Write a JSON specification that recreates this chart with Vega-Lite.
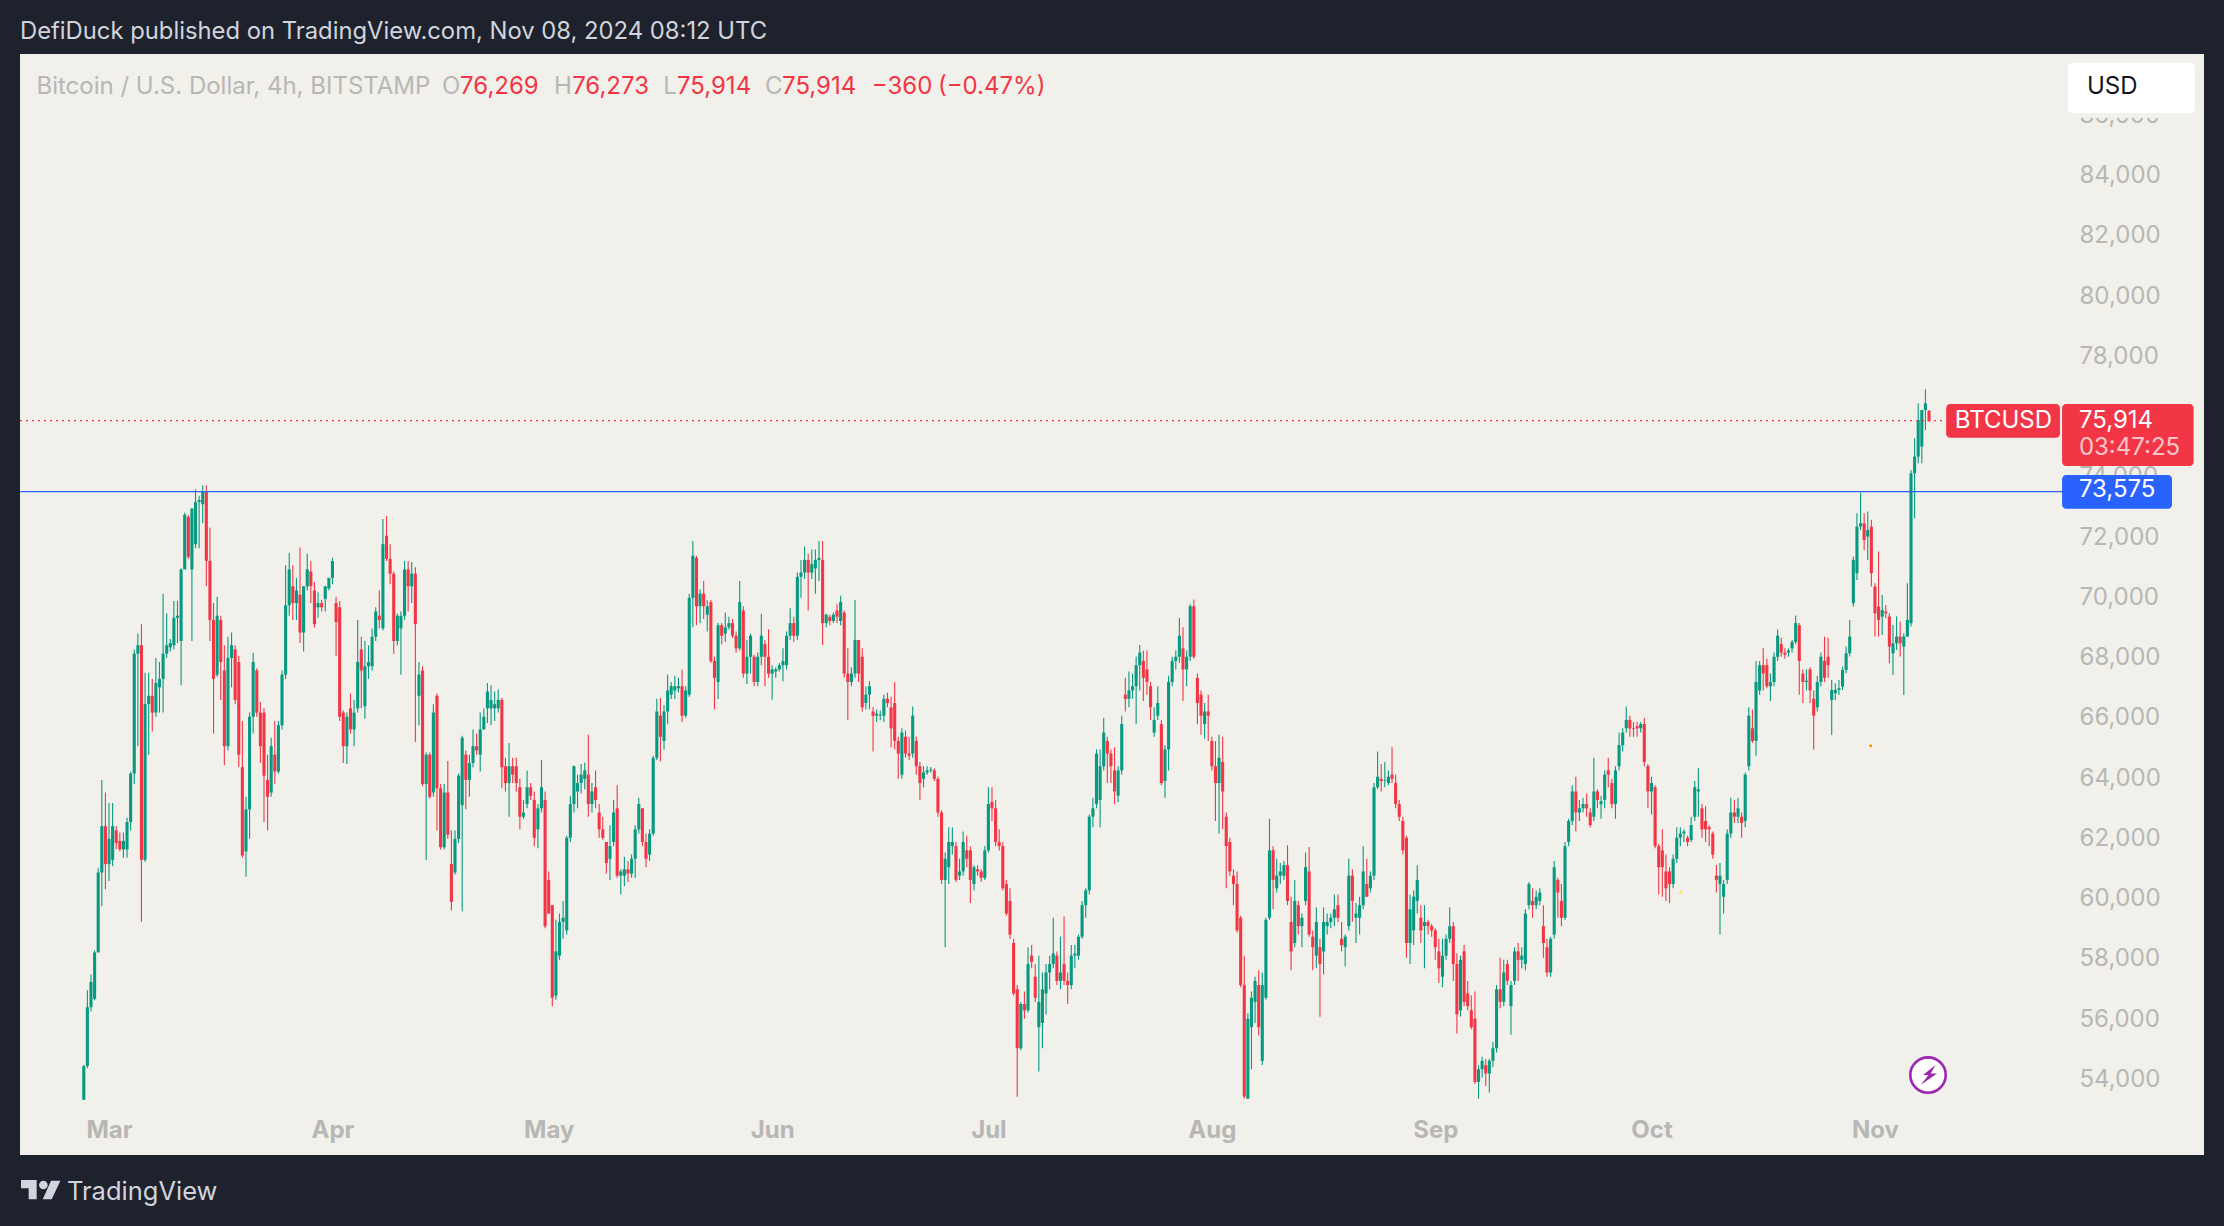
{"$schema":"https://vega.github.io/schema/vega-lite/v6.json","background":"#1e222d","autosize":{"type":"none"},"padding":{"left":20,"top":54,"right":20,"bottom":71},"width":2184,"height":1101,"view":{"fill":"#f1f0ea","stroke":null},
"title":{"text":"DefiDuck published on TradingView.com, Nov 08, 2024 08:12 UTC","anchor":"start","frame":"group","offset":10,"color":"#d1d4dc","fontSize":23.8,"fontWeight":"normal","font":"Inter"},
"datasets":{"candles":[
{"t":"2024-02-26T12:00","o":53392,"h":54550,"l":53392,"c":54510},
{"t":"2024-02-27T00:00","o":54510,"h":57025,"l":54440,"c":56466},
{"t":"2024-02-27T12:00","o":56466,"h":57555,"l":56326,"c":57305},
{"t":"2024-02-28T00:00","o":56745,"h":58352,"l":56700,"c":58283},
{"t":"2024-02-28T12:00","o":58283,"h":61076,"l":58841,"c":60937},
{"t":"2024-02-29T00:00","o":60937,"h":64010,"l":59818,"c":62474},
{"t":"2024-02-29T12:00","o":62474,"h":63591,"l":60377,"c":61216},
{"t":"2024-03-01T00:00","o":61216,"h":63242,"l":60657,"c":62054},
{"t":"2024-03-01T12:00","o":61356,"h":63242,"l":61146,"c":62474},
{"t":"2024-03-02T00:00","o":62334,"h":62474,"l":61705,"c":61914},
{"t":"2024-03-02T12:00","o":61984,"h":62264,"l":61635,"c":61705},
{"t":"2024-03-03T00:00","o":61705,"h":62264,"l":61425,"c":61984},
{"t":"2024-03-03T12:00","o":61705,"h":62753,"l":61425,"c":62613},
{"t":"2024-03-04T00:00","o":62613,"h":64290,"l":62334,"c":64220},
{"t":"2024-03-04T12:00","o":64220,"h":68340,"l":63870,"c":68200},
{"t":"2024-03-05T00:00","o":68200,"h":68870,"l":65130,"c":68480},
{"t":"2024-03-05T12:00","o":68480,"h":69180,"l":59300,"c":61356},
{"t":"2024-03-06T00:00","o":61356,"h":67570,"l":61285,"c":66530},
{"t":"2024-03-06T12:00","o":66530,"h":67570,"l":64848,"c":66800},
{"t":"2024-03-07T00:00","o":66800,"h":67360,"l":65617,"c":66245},
{"t":"2024-03-07T12:00","o":66245,"h":68060,"l":66105,"c":67223},
{"t":"2024-03-08T00:00","o":67084,"h":67920,"l":66245,"c":67363},
{"t":"2024-03-08T12:00","o":67363,"h":70185,"l":66245,"c":68200},
{"t":"2024-03-09T00:00","o":68200,"h":69530,"l":68060,"c":68480},
{"t":"2024-03-09T12:00","o":68410,"h":68690,"l":68270,"c":68550},
{"t":"2024-03-10T00:00","o":68480,"h":69950,"l":68340,"c":69390},
{"t":"2024-03-10T12:00","o":69390,"h":69950,"l":68550,"c":69460},
{"t":"2024-03-11T00:00","o":68620,"h":71023,"l":67150,"c":70995},
{"t":"2024-03-11T12:00","o":70995,"h":72880,"l":71340,"c":72810},
{"t":"2024-03-12T00:00","o":72740,"h":72810,"l":71340,"c":71413},
{"t":"2024-03-12T12:00","o":70995,"h":73020,"l":68620,"c":73020},
{"t":"2024-03-13T00:00","o":71833,"h":73650,"l":71693,"c":73230},
{"t":"2024-03-13T12:00","o":73230,"h":73440,"l":71700,"c":73300},
{"t":"2024-03-14T00:00","o":73160,"h":73790,"l":72530,"c":73580},
{"t":"2024-03-14T12:00","o":73580,"h":73790,"l":70436,"c":71280},
{"t":"2024-03-15T00:00","o":71280,"h":72390,"l":68620,"c":69320},
{"t":"2024-03-15T12:00","o":69320,"h":69880,"l":65546,"c":67363},
{"t":"2024-03-16T00:00","o":67500,"h":70087,"l":67433,"c":69460},
{"t":"2024-03-16T12:00","o":69320,"h":69460,"l":66665,"c":67920},
{"t":"2024-03-17T00:00","o":67642,"h":68480,"l":64500,"c":65128},
{"t":"2024-03-17T12:00","o":65128,"h":68760,"l":64990,"c":68060},
{"t":"2024-03-18T00:00","o":68060,"h":68900,"l":67084,"c":68480},
{"t":"2024-03-18T12:00","o":68340,"h":68480,"l":66525,"c":66665},
{"t":"2024-03-19T00:00","o":67920,"h":68130,"l":64430,"c":64848},
{"t":"2024-03-19T12:00","o":64430,"h":65966,"l":61425,"c":61500},
{"t":"2024-03-20T00:00","o":61635,"h":63451,"l":60796,"c":63033},
{"t":"2024-03-20T12:00","o":63033,"h":66245,"l":62054,"c":66105},
{"t":"2024-03-21T00:00","o":66105,"h":68230,"l":65546,"c":67920},
{"t":"2024-03-21T12:00","o":67642,"h":67712,"l":66105,"c":66245},
{"t":"2024-03-22T00:00","o":66245,"h":66595,"l":64569,"c":65128},
{"t":"2024-03-22T12:00","o":66245,"h":66385,"l":62613,"c":64150},
{"t":"2024-03-23T00:00","o":64010,"h":64848,"l":62334,"c":63451},
{"t":"2024-03-23T12:00","o":63591,"h":65407,"l":63451,"c":65128},
{"t":"2024-03-24T00:00","o":64848,"h":65966,"l":63870,"c":64290},
{"t":"2024-03-24T12:00","o":64290,"h":65966,"l":64220,"c":65826},
{"t":"2024-03-25T00:00","o":65826,"h":67642,"l":65686,"c":67503},
{"t":"2024-03-25T12:00","o":67503,"h":71135,"l":67363,"c":69807},
{"t":"2024-03-26T00:00","o":69807,"h":71553,"l":69460,"c":70995},
{"t":"2024-03-26T12:00","o":70436,"h":71135,"l":69320,"c":69878},
{"t":"2024-03-27T00:00","o":69878,"h":70715,"l":69320,"c":70296},
{"t":"2024-03-27T12:00","o":70157,"h":71721,"l":68550,"c":68900},
{"t":"2024-03-28T00:00","o":68900,"h":70436,"l":68270,"c":70436},
{"t":"2024-03-28T12:00","o":70436,"h":71526,"l":70296,"c":70995},
{"t":"2024-03-29T00:00","o":70925,"h":71274,"l":69878,"c":70436},
{"t":"2024-03-29T12:00","o":70296,"h":70575,"l":69068,"c":69180},
{"t":"2024-03-30T00:00","o":69738,"h":70226,"l":69389,"c":69878},
{"t":"2024-03-30T12:00","o":69878,"h":69990,"l":69600,"c":69738},
{"t":"2024-03-31T00:00","o":70017,"h":70436,"l":69598,"c":70436},
{"t":"2024-03-31T12:00","o":70366,"h":70715,"l":70296,"c":70715},
{"t":"2024-04-01T00:00","o":70715,"h":71386,"l":70506,"c":71274},
{"t":"2024-04-01T12:00","o":69878,"h":70087,"l":68130,"c":69250},
{"t":"2024-04-02T00:00","o":69738,"h":69947,"l":65965,"c":66105},
{"t":"2024-04-02T12:00","o":66245,"h":66315,"l":64569,"c":65128},
{"t":"2024-04-03T00:00","o":65128,"h":66245,"l":64540,"c":66105},
{"t":"2024-04-03T12:00","o":66385,"h":66874,"l":65546,"c":65686},
{"t":"2024-04-04T00:00","o":65686,"h":66665,"l":65128,"c":66245},
{"t":"2024-04-04T12:00","o":66385,"h":69318,"l":66245,"c":67921},
{"t":"2024-04-05T00:00","o":68340,"h":68760,"l":66385,"c":67642},
{"t":"2024-04-05T12:00","o":66455,"h":68620,"l":66036,"c":67782},
{"t":"2024-04-06T00:00","o":67782,"h":68480,"l":67363,"c":67922},
{"t":"2024-04-06T12:00","o":67782,"h":69039,"l":67642,"c":68760},
{"t":"2024-04-07T00:00","o":68760,"h":69738,"l":68620,"c":69598},
{"t":"2024-04-07T12:00","o":69459,"h":70296,"l":69039,"c":69319},
{"t":"2024-04-08T00:00","o":69039,"h":72671,"l":68969,"c":71833},
{"t":"2024-04-08T12:00","o":72112,"h":72769,"l":71274,"c":71344},
{"t":"2024-04-09T00:00","o":71344,"h":71833,"l":70506,"c":70855},
{"t":"2024-04-09T12:00","o":70855,"h":70925,"l":68200,"c":68620},
{"t":"2024-04-10T00:00","o":68620,"h":69529,"l":68480,"c":69459},
{"t":"2024-04-10T12:00","o":69039,"h":69598,"l":67503,"c":69459},
{"t":"2024-04-11T00:00","o":69459,"h":71274,"l":69319,"c":70995},
{"t":"2024-04-11T12:00","o":70995,"h":71274,"l":69598,"c":70436},
{"t":"2024-04-12T00:00","o":70436,"h":71246,"l":69878,"c":70855},
{"t":"2024-04-12T12:00","o":70855,"h":71065,"l":65267,"c":69179},
{"t":"2024-04-13T00:00","o":66803,"h":67921,"l":65826,"c":67503},
{"t":"2024-04-13T12:00","o":67642,"h":67782,"l":63800,"c":63870},
{"t":"2024-04-14T00:00","o":63870,"h":64917,"l":61355,"c":64848},
{"t":"2024-04-14T12:00","o":64848,"h":64917,"l":63381,"c":63451},
{"t":"2024-04-15T00:00","o":63591,"h":66525,"l":63451,"c":66245},
{"t":"2024-04-15T12:00","o":66803,"h":66874,"l":62333,"c":63731},
{"t":"2024-04-16T00:00","o":63731,"h":63870,"l":61704,"c":61774},
{"t":"2024-04-16T12:00","o":61774,"h":63870,"l":61704,"c":63591},
{"t":"2024-04-17T00:00","o":63591,"h":64639,"l":62054,"c":62193},
{"t":"2024-04-17T12:00","o":61216,"h":62333,"l":59678,"c":59957},
{"t":"2024-04-18T00:00","o":60937,"h":62333,"l":60867,"c":62054},
{"t":"2024-04-18T12:00","o":62054,"h":64220,"l":61914,"c":64150},
{"t":"2024-04-19T00:00","o":63172,"h":65477,"l":59651,"c":65407},
{"t":"2024-04-19T12:00","o":64848,"h":64987,"l":63032,"c":64010},
{"t":"2024-04-20T00:00","o":64010,"h":64848,"l":63451,"c":64569},
{"t":"2024-04-20T12:00","o":64569,"h":65686,"l":64429,"c":65128},
{"t":"2024-04-21T00:00","o":65128,"h":65546,"l":64848,"c":64987},
{"t":"2024-04-21T12:00","o":64848,"h":66245,"l":64290,"c":65686},
{"t":"2024-04-22T00:00","o":65686,"h":66385,"l":65686,"c":66105},
{"t":"2024-04-22T12:00","o":66385,"h":67223,"l":65896,"c":66944},
{"t":"2024-04-23T00:00","o":66385,"h":67153,"l":65826,"c":66665},
{"t":"2024-04-23T12:00","o":66385,"h":66944,"l":65966,"c":66525},
{"t":"2024-04-24T00:00","o":66385,"h":67014,"l":66245,"c":66665},
{"t":"2024-04-24T12:00","o":66665,"h":66733,"l":63730,"c":64429},
{"t":"2024-04-25T00:00","o":64464,"h":64744,"l":63626,"c":63906},
{"t":"2024-04-25T12:00","o":63906,"h":65233,"l":62788,"c":64464},
{"t":"2024-04-26T00:00","o":64464,"h":64744,"l":63906,"c":64185},
{"t":"2024-04-26T12:00","o":64464,"h":64744,"l":63626,"c":63906},
{"t":"2024-04-27T00:00","o":63766,"h":64045,"l":62369,"c":62788},
{"t":"2024-04-27T12:00","o":62788,"h":63347,"l":62718,"c":62928},
{"t":"2024-04-28T00:00","o":63207,"h":64325,"l":63067,"c":63766},
{"t":"2024-04-28T12:00","o":63766,"h":63906,"l":63347,"c":63486},
{"t":"2024-04-29T00:00","o":63347,"h":63626,"l":61810,"c":62090},
{"t":"2024-04-29T12:00","o":62369,"h":63207,"l":61741,"c":63067},
{"t":"2024-04-30T00:00","o":63067,"h":64674,"l":62928,"c":63766},
{"t":"2024-04-30T12:00","o":63347,"h":63626,"l":59086,"c":59156},
{"t":"2024-05-01T00:00","o":60692,"h":60972,"l":59575,"c":59575},
{"t":"2024-05-01T12:00","o":59854,"h":59854,"l":56500,"c":56781},
{"t":"2024-05-02T00:00","o":56851,"h":59365,"l":56711,"c":58318},
{"t":"2024-05-02T12:00","o":58178,"h":59575,"l":58038,"c":59296},
{"t":"2024-05-03T00:00","o":59296,"h":59994,"l":58737,"c":59435},
{"t":"2024-05-03T12:00","o":59016,"h":62159,"l":58877,"c":62090},
{"t":"2024-05-04T00:00","o":62090,"h":63486,"l":61950,"c":63207},
{"t":"2024-05-04T12:00","o":63207,"h":64492,"l":62928,"c":64464},
{"t":"2024-05-05T00:00","o":63626,"h":64185,"l":63067,"c":63906},
{"t":"2024-05-05T12:00","o":63906,"h":64534,"l":63556,"c":64185},
{"t":"2024-05-06T00:00","o":64045,"h":64576,"l":63696,"c":64325},
{"t":"2024-05-06T12:00","o":64185,"h":65512,"l":62788,"c":63207},
{"t":"2024-05-07T00:00","o":63207,"h":63906,"l":62928,"c":63626},
{"t":"2024-05-07T12:00","o":63766,"h":64325,"l":63067,"c":63347},
{"t":"2024-05-08T00:00","o":62928,"h":63207,"l":62090,"c":62369},
{"t":"2024-05-08T12:00","o":62369,"h":62788,"l":62020,"c":62090},
{"t":"2024-05-09T00:00","o":61950,"h":61950,"l":60902,"c":61251},
{"t":"2024-05-09T12:00","o":61391,"h":62509,"l":60692,"c":61810},
{"t":"2024-05-10T00:00","o":61950,"h":63347,"l":61810,"c":62928},
{"t":"2024-05-10T12:00","o":63067,"h":63836,"l":60762,"c":60832},
{"t":"2024-05-11T00:00","o":60832,"h":61042,"l":60204,"c":60972},
{"t":"2024-05-11T12:00","o":60832,"h":61461,"l":60483,"c":61042},
{"t":"2024-05-12T00:00","o":61042,"h":61321,"l":60623,"c":60902},
{"t":"2024-05-12T12:00","o":60902,"h":61531,"l":60762,"c":61391},
{"t":"2024-05-13T00:00","o":61391,"h":62509,"l":60762,"c":62369},
{"t":"2024-05-13T12:00","o":62369,"h":63417,"l":62229,"c":63207},
{"t":"2024-05-14T00:00","o":63067,"h":63067,"l":61810,"c":61950},
{"t":"2024-05-14T12:00","o":61950,"h":62229,"l":61112,"c":61391},
{"t":"2024-05-15T00:00","o":61531,"h":62369,"l":61321,"c":62229},
{"t":"2024-05-15T12:00","o":62229,"h":64814,"l":62159,"c":64744},
{"t":"2024-05-16T00:00","o":64744,"h":66700,"l":64674,"c":66280},
{"t":"2024-05-16T12:00","o":66141,"h":66728,"l":64632,"c":65442},
{"t":"2024-05-17T00:00","o":65303,"h":66490,"l":65023,"c":66280},
{"t":"2024-05-17T12:00","o":66280,"h":67510,"l":65861,"c":66979},
{"t":"2024-05-18T00:00","o":66839,"h":67259,"l":66699,"c":67119},
{"t":"2024-05-18T12:00","o":66979,"h":67468,"l":66699,"c":67119},
{"t":"2024-05-19T00:00","o":67049,"h":67399,"l":66909,"c":67119},
{"t":"2024-05-19T12:00","o":67119,"h":67678,"l":65931,"c":66141},
{"t":"2024-05-20T00:00","o":66141,"h":67119,"l":66071,"c":66979},
{"t":"2024-05-20T12:00","o":66839,"h":70192,"l":66769,"c":70052},
{"t":"2024-05-21T00:00","o":70052,"h":71938,"l":69074,"c":71449},
{"t":"2024-05-21T12:00","o":71380,"h":71449,"l":69144,"c":69773},
{"t":"2024-05-22T00:00","o":69773,"h":70332,"l":69214,"c":70192},
{"t":"2024-05-22T12:00","o":70192,"h":70611,"l":69354,"c":69773},
{"t":"2024-05-23T00:00","o":69493,"h":69983,"l":68935,"c":69773},
{"t":"2024-05-23T12:00","o":69913,"h":69983,"l":67887,"c":67957},
{"t":"2024-05-24T00:00","o":67957,"h":68097,"l":66351,"c":67398},
{"t":"2024-05-24T12:00","o":67259,"h":69214,"l":66699,"c":69144},
{"t":"2024-05-25T00:00","o":69144,"h":69214,"l":68516,"c":68795},
{"t":"2024-05-25T12:00","o":68865,"h":69564,"l":68586,"c":69075},
{"t":"2024-05-26T00:00","o":69075,"h":69424,"l":69005,"c":69214},
{"t":"2024-05-26T12:00","o":69214,"h":69354,"l":68725,"c":68795},
{"t":"2024-05-27T00:00","o":68795,"h":68935,"l":68236,"c":68376},
{"t":"2024-05-27T12:00","o":68376,"h":70611,"l":68306,"c":69913},
{"t":"2024-05-28T00:00","o":69633,"h":69773,"l":67398,"c":67538},
{"t":"2024-05-28T12:00","o":67538,"h":68655,"l":67189,"c":68097},
{"t":"2024-05-29T00:00","o":68097,"h":68865,"l":67538,"c":68795},
{"t":"2024-05-29T12:00","o":68097,"h":68167,"l":67119,"c":67259},
{"t":"2024-05-30T00:00","o":67259,"h":68236,"l":67119,"c":68097},
{"t":"2024-05-30T12:00","o":68097,"h":69521,"l":67817,"c":68795},
{"t":"2024-05-31T00:00","o":68516,"h":68655,"l":67119,"c":68097},
{"t":"2024-05-31T12:00","o":68097,"h":69005,"l":67398,"c":67538},
{"t":"2024-06-01T00:00","o":67538,"h":67817,"l":66672,"c":67678},
{"t":"2024-06-01T12:00","o":67608,"h":67748,"l":67398,"c":67678},
{"t":"2024-06-02T00:00","o":67678,"h":67887,"l":67608,"c":67817},
{"t":"2024-06-02T12:00","o":67817,"h":68376,"l":67286,"c":67957},
{"t":"2024-06-03T00:00","o":67817,"h":68935,"l":67678,"c":68795},
{"t":"2024-06-03T12:00","o":68795,"h":69703,"l":68655,"c":69214},
{"t":"2024-06-04T00:00","o":69214,"h":69424,"l":68586,"c":68795},
{"t":"2024-06-04T12:00","o":68795,"h":70891,"l":68655,"c":70751},
{"t":"2024-06-05T00:00","o":70751,"h":71310,"l":70052,"c":70891},
{"t":"2024-06-05T12:00","o":70891,"h":71757,"l":70681,"c":71310},
{"t":"2024-06-06T00:00","o":71310,"h":71519,"l":69633,"c":70891},
{"t":"2024-06-06T12:00","o":70891,"h":71659,"l":70681,"c":71170},
{"t":"2024-06-07T00:00","o":71030,"h":71659,"l":70192,"c":71310},
{"t":"2024-06-07T12:00","o":71310,"h":71938,"l":70611,"c":71380},
{"t":"2024-06-08T00:00","o":71310,"h":71938,"l":68488,"c":69214},
{"t":"2024-06-08T12:00","o":69214,"h":69521,"l":69075,"c":69493},
{"t":"2024-06-09T00:00","o":69424,"h":69493,"l":69144,"c":69284},
{"t":"2024-06-09T12:00","o":69284,"h":69563,"l":69214,"c":69493},
{"t":"2024-06-10T00:00","o":69633,"h":69843,"l":69214,"c":69424},
{"t":"2024-06-10T12:00","o":69284,"h":70122,"l":69144,"c":69913},
{"t":"2024-06-11T00:00","o":69563,"h":69633,"l":67398,"c":67538},
{"t":"2024-06-11T12:00","o":67538,"h":68376,"l":66001,"c":67259},
{"t":"2024-06-12T00:00","o":67259,"h":67748,"l":67119,"c":67538},
{"t":"2024-06-12T12:00","o":67538,"h":69982,"l":67398,"c":68655},
{"t":"2024-06-13T00:00","o":68655,"h":68655,"l":67259,"c":67538},
{"t":"2024-06-13T12:00","o":68097,"h":68376,"l":66280,"c":66420},
{"t":"2024-06-14T00:00","o":66560,"h":67119,"l":66350,"c":66839},
{"t":"2024-06-14T12:00","o":66839,"h":67286,"l":66350,"c":67119},
{"t":"2024-06-15T00:00","o":66280,"h":66420,"l":64953,"c":66141},
{"t":"2024-06-15T12:00","o":66141,"h":66350,"l":65931,"c":66210},
{"t":"2024-06-16T00:00","o":66141,"h":66308,"l":65990,"c":66170},
{"t":"2024-06-16T12:00","o":66141,"h":66839,"l":65931,"c":66700},
{"t":"2024-06-17T00:00","o":66700,"h":66909,"l":66420,"c":66560},
{"t":"2024-06-17T12:00","o":66420,"h":66769,"l":65093,"c":65722},
{"t":"2024-06-18T00:00","o":66560,"h":67259,"l":65023,"c":65303},
{"t":"2024-06-18T12:00","o":65303,"h":65442,"l":64045,"c":64883},
{"t":"2024-06-19T00:00","o":64185,"h":65722,"l":64045,"c":65582},
{"t":"2024-06-19T12:00","o":65442,"h":65652,"l":64744,"c":64883},
{"t":"2024-06-20T00:00","o":64883,"h":65442,"l":64674,"c":64814},
{"t":"2024-06-20T12:00","o":64883,"h":66448,"l":64744,"c":66141},
{"t":"2024-06-21T00:00","o":65303,"h":65442,"l":64185,"c":64464},
{"t":"2024-06-21T12:00","o":64464,"h":64604,"l":63347,"c":63906},
{"t":"2024-06-22T00:00","o":64045,"h":64464,"l":63766,"c":64255},
{"t":"2024-06-22T12:00","o":64255,"h":64464,"l":64185,"c":64325},
{"t":"2024-06-23T00:00","o":64325,"h":64436,"l":64255,"c":64353},
{"t":"2024-06-23T12:00","o":64325,"h":64395,"l":63976,"c":64045},
{"t":"2024-06-24T00:00","o":64045,"h":64115,"l":62788,"c":62928},
{"t":"2024-06-24T12:00","o":62928,"h":62998,"l":60553,"c":60692},
{"t":"2024-06-25T00:00","o":60692,"h":61601,"l":58457,"c":61391},
{"t":"2024-06-25T12:00","o":61112,"h":62439,"l":60553,"c":61950},
{"t":"2024-06-26T00:00","o":61810,"h":62439,"l":61531,"c":61950},
{"t":"2024-06-26T12:00","o":61810,"h":61950,"l":60622,"c":60692},
{"t":"2024-06-27T00:00","o":60832,"h":61391,"l":60692,"c":60972},
{"t":"2024-06-27T12:00","o":60972,"h":62300,"l":60832,"c":61950},
{"t":"2024-06-28T00:00","o":61671,"h":62159,"l":61112,"c":61391},
{"t":"2024-06-28T12:00","o":61671,"h":61810,"l":59924,"c":60692},
{"t":"2024-06-29T00:00","o":60552,"h":61181,"l":60343,"c":61112},
{"t":"2024-06-29T12:00","o":61042,"h":61181,"l":60832,"c":60972},
{"t":"2024-06-30T00:00","o":60972,"h":61042,"l":60622,"c":60762},
{"t":"2024-06-30T12:00","o":60762,"h":61810,"l":60692,"c":61671},
{"t":"2024-07-01T00:00","o":61671,"h":63766,"l":61601,"c":63207},
{"t":"2024-07-01T12:00","o":63277,"h":63766,"l":62648,"c":63067},
{"t":"2024-07-02T00:00","o":63067,"h":63347,"l":61810,"c":61950},
{"t":"2024-07-02T12:00","o":61950,"h":62369,"l":61671,"c":61810},
{"t":"2024-07-03T00:00","o":61810,"h":61950,"l":60343,"c":60413},
{"t":"2024-07-03T12:00","o":60552,"h":60692,"l":59505,"c":59575},
{"t":"2024-07-04T00:00","o":59994,"h":60413,"l":58737,"c":58877},
{"t":"2024-07-04T12:00","o":58597,"h":58737,"l":56851,"c":56921},
{"t":"2024-07-05T00:00","o":57060,"h":57200,"l":53498,"c":55104},
{"t":"2024-07-05T12:00","o":55104,"h":56642,"l":55034,"c":56572},
{"t":"2024-07-06T00:00","o":56572,"h":56991,"l":56083,"c":56362},
{"t":"2024-07-06T12:00","o":56362,"h":58457,"l":56292,"c":57898},
{"t":"2024-07-07T00:00","o":58178,"h":58527,"l":57758,"c":57968},
{"t":"2024-07-07T12:00","o":57479,"h":57898,"l":56642,"c":56781},
{"t":"2024-07-08T00:00","o":55803,"h":58178,"l":54336,"c":56642},
{"t":"2024-07-08T12:00","o":55943,"h":57619,"l":55104,"c":57060},
{"t":"2024-07-09T00:00","o":56921,"h":57898,"l":56222,"c":57619},
{"t":"2024-07-09T12:00","o":57619,"h":58178,"l":57060,"c":57898},
{"t":"2024-07-10T00:00","o":57898,"h":59435,"l":57758,"c":58248},
{"t":"2024-07-10T12:00","o":58178,"h":58318,"l":57200,"c":57340},
{"t":"2024-07-11T00:00","o":57340,"h":58806,"l":57060,"c":57619},
{"t":"2024-07-11T12:00","o":57898,"h":59477,"l":57200,"c":57340},
{"t":"2024-07-12T00:00","o":57340,"h":57619,"l":56572,"c":57200},
{"t":"2024-07-12T12:00","o":57200,"h":58527,"l":57060,"c":58178},
{"t":"2024-07-13T00:00","o":58178,"h":58527,"l":57758,"c":58248},
{"t":"2024-07-13T12:00","o":58178,"h":58877,"l":58038,"c":58806},
{"t":"2024-07-14T00:00","o":58806,"h":59994,"l":58737,"c":59854},
{"t":"2024-07-14T12:00","o":59854,"h":60413,"l":59435,"c":60343},
{"t":"2024-07-15T00:00","o":60343,"h":62858,"l":60204,"c":62788},
{"t":"2024-07-15T12:00","o":62788,"h":63417,"l":62439,"c":63067},
{"t":"2024-07-16T00:00","o":63207,"h":65023,"l":63067,"c":64883},
{"t":"2024-07-16T12:00","o":63347,"h":65023,"l":62439,"c":64464},
{"t":"2024-07-17T00:00","o":64464,"h":66071,"l":64325,"c":65582},
{"t":"2024-07-17T12:00","o":65303,"h":65442,"l":63906,"c":64883},
{"t":"2024-07-18T00:00","o":64883,"h":65023,"l":63906,"c":64464},
{"t":"2024-07-18T12:00","o":64325,"h":65093,"l":63207,"c":63626},
{"t":"2024-07-19T00:00","o":63486,"h":64464,"l":63277,"c":64325},
{"t":"2024-07-19T12:00","o":64325,"h":66141,"l":64185,"c":65861},
{"t":"2024-07-20T00:00","o":66839,"h":67398,"l":66280,"c":66700},
{"t":"2024-07-20T12:00","o":66700,"h":67608,"l":66420,"c":66979},
{"t":"2024-07-21T00:00","o":66979,"h":67538,"l":66700,"c":67119},
{"t":"2024-07-21T12:00","o":67119,"h":68097,"l":65861,"c":67817},
{"t":"2024-07-22T00:00","o":67817,"h":68488,"l":66979,"c":68237},
{"t":"2024-07-22T12:00","o":67957,"h":68306,"l":66630,"c":67398},
{"t":"2024-07-23T00:00","o":67678,"h":68306,"l":66839,"c":67259},
{"t":"2024-07-23T12:00","o":67119,"h":67259,"l":65997,"c":66420},
{"t":"2024-07-24T00:00","o":65582,"h":66420,"l":65442,"c":66001},
{"t":"2024-07-24T12:00","o":66141,"h":67119,"l":66001,"c":66560},
{"t":"2024-07-25T00:00","o":65861,"h":66001,"l":63836,"c":63906},
{"t":"2024-07-25T12:00","o":63976,"h":65163,"l":63417,"c":65023},
{"t":"2024-07-26T00:00","o":65023,"h":67468,"l":64325,"c":67259},
{"t":"2024-07-26T12:00","o":67259,"h":68097,"l":67119,"c":67957},
{"t":"2024-07-27T00:00","o":67957,"h":68306,"l":67678,"c":68097},
{"t":"2024-07-27T12:00","o":68097,"h":69381,"l":67887,"c":68795},
{"t":"2024-07-28T00:00","o":68376,"h":69075,"l":66630,"c":67678},
{"t":"2024-07-28T12:00","o":67678,"h":68306,"l":67119,"c":68097},
{"t":"2024-07-29T00:00","o":68097,"h":69843,"l":67957,"c":69773},
{"t":"2024-07-29T12:00","o":69773,"h":69996,"l":68027,"c":68097},
{"t":"2024-07-30T00:00","o":67398,"h":67538,"l":65861,"c":66560},
{"t":"2024-07-30T12:00","o":66839,"h":66979,"l":65512,"c":66141},
{"t":"2024-07-31T00:00","o":65861,"h":66560,"l":65372,"c":66280},
{"t":"2024-07-31T12:00","o":66280,"h":66839,"l":65303,"c":66141},
{"t":"2024-08-01T00:00","o":65303,"h":65442,"l":64325,"c":64464},
{"t":"2024-08-01T12:00","o":64464,"h":65303,"l":62648,"c":63906},
{"t":"2024-08-02T00:00","o":63906,"h":65512,"l":62229,"c":64744},
{"t":"2024-08-02T12:00","o":64604,"h":65442,"l":62369,"c":63626},
{"t":"2024-08-03T00:00","o":62788,"h":62928,"l":60413,"c":61810},
{"t":"2024-08-03T12:00","o":61950,"h":62090,"l":60832,"c":60972},
{"t":"2024-08-04T00:00","o":60832,"h":61042,"l":59854,"c":60552},
{"t":"2024-08-04T12:00","o":60552,"h":60972,"l":58946,"c":59016},
{"t":"2024-08-05T00:00","o":59435,"h":59505,"l":57130,"c":57200},
{"t":"2024-08-05T12:00","o":57200,"h":58178,"l":53428,"c":53500},
{"t":"2024-08-06T00:00","o":53428,"h":56265,"l":53428,"c":56083},
{"t":"2024-08-06T12:00","o":55803,"h":56991,"l":54406,"c":56781},
{"t":"2024-08-07T00:00","o":56642,"h":57479,"l":55943,"c":57340},
{"t":"2024-08-07T12:00","o":57200,"h":57689,"l":55524,"c":55803},
{"t":"2024-08-08T00:00","o":54685,"h":57619,"l":54545,"c":57200},
{"t":"2024-08-08T12:00","o":56781,"h":59435,"l":56711,"c":59365},
{"t":"2024-08-09T00:00","o":59435,"h":62718,"l":59365,"c":61671},
{"t":"2024-08-09T12:00","o":61671,"h":61810,"l":59715,"c":60692},
{"t":"2024-08-10T00:00","o":60413,"h":61391,"l":60274,"c":60832},
{"t":"2024-08-10T12:00","o":60832,"h":61251,"l":60552,"c":60972},
{"t":"2024-08-11T00:00","o":60832,"h":61321,"l":60692,"c":61182},
{"t":"2024-08-11T12:00","o":61182,"h":61838,"l":59854,"c":59994},
{"t":"2024-08-12T00:00","o":59295,"h":60134,"l":57689,"c":58318},
{"t":"2024-08-12T12:00","o":58597,"h":60692,"l":58457,"c":59994},
{"t":"2024-08-13T00:00","o":59854,"h":59994,"l":58877,"c":59156},
{"t":"2024-08-13T12:00","o":59156,"h":59575,"l":58457,"c":59435},
{"t":"2024-08-14T00:00","o":59994,"h":61601,"l":59854,"c":61112},
{"t":"2024-08-14T12:00","o":60972,"h":61782,"l":58807,"c":58877},
{"t":"2024-08-15T00:00","o":58807,"h":59016,"l":57689,"c":58457},
{"t":"2024-08-15T12:00","o":58178,"h":59784,"l":57758,"c":59296},
{"t":"2024-08-16T00:00","o":58457,"h":58737,"l":56153,"c":57898},
{"t":"2024-08-16T12:00","o":58318,"h":59784,"l":57549,"c":59296},
{"t":"2024-08-17T00:00","o":59156,"h":59575,"l":58877,"c":59296},
{"t":"2024-08-17T12:00","o":59296,"h":59575,"l":59086,"c":59435},
{"t":"2024-08-18T00:00","o":59435,"h":60204,"l":59156,"c":59714},
{"t":"2024-08-18T12:00","o":59854,"h":60204,"l":59295,"c":59435},
{"t":"2024-08-19T00:00","o":58737,"h":59296,"l":58318,"c":58527},
{"t":"2024-08-19T12:00","o":58457,"h":58877,"l":57828,"c":58806},
{"t":"2024-08-20T00:00","o":59156,"h":61391,"l":59016,"c":60832},
{"t":"2024-08-20T12:00","o":60832,"h":61042,"l":59296,"c":59994},
{"t":"2024-08-21T00:00","o":59435,"h":59924,"l":58597,"c":59575},
{"t":"2024-08-21T12:00","o":59435,"h":60134,"l":58877,"c":59854},
{"t":"2024-08-22T00:00","o":59854,"h":61810,"l":59714,"c":60972},
{"t":"2024-08-22T12:00","o":60552,"h":61391,"l":60134,"c":60134},
{"t":"2024-08-23T00:00","o":60413,"h":60972,"l":60274,"c":60832},
{"t":"2024-08-23T12:00","o":60832,"h":63906,"l":60692,"c":63766},
{"t":"2024-08-24T00:00","o":63766,"h":64953,"l":63696,"c":64115},
{"t":"2024-08-24T12:00","o":64045,"h":64534,"l":63626,"c":63976},
{"t":"2024-08-25T00:00","o":63976,"h":64604,"l":63766,"c":64000},
{"t":"2024-08-25T12:00","o":63906,"h":64325,"l":63836,"c":64115},
{"t":"2024-08-26T00:00","o":64185,"h":65093,"l":63906,"c":64045},
{"t":"2024-08-26T12:00","o":63906,"h":64185,"l":63067,"c":63207},
{"t":"2024-08-27T00:00","o":63207,"h":63347,"l":62648,"c":62788},
{"t":"2024-08-27T12:00","o":62648,"h":62788,"l":61531,"c":61671},
{"t":"2024-08-28T00:00","o":62090,"h":62159,"l":58108,"c":58597},
{"t":"2024-08-28T12:00","o":58597,"h":60204,"l":57898,"c":59714},
{"t":"2024-08-29T00:00","o":59016,"h":60343,"l":58527,"c":60134},
{"t":"2024-08-29T12:00","o":59994,"h":61181,"l":59575,"c":60692},
{"t":"2024-08-30T00:00","o":59435,"h":59854,"l":58597,"c":59016},
{"t":"2024-08-30T12:00","o":59156,"h":59854,"l":57758,"c":59296},
{"t":"2024-08-31T00:00","o":59296,"h":59365,"l":58877,"c":59156},
{"t":"2024-08-31T12:00","o":59156,"h":59226,"l":58807,"c":59016},
{"t":"2024-09-01T00:00","o":59016,"h":59086,"l":58038,"c":58457},
{"t":"2024-09-01T12:00","o":58318,"h":58737,"l":57270,"c":57758},
{"t":"2024-09-02T00:00","o":57479,"h":58737,"l":57130,"c":58178},
{"t":"2024-09-02T12:00","o":58178,"h":58877,"l":58038,"c":58737},
{"t":"2024-09-03T00:00","o":58737,"h":59784,"l":58597,"c":59156},
{"t":"2024-09-03T12:00","o":59156,"h":59296,"l":57340,"c":57898},
{"t":"2024-09-04T00:00","o":57898,"h":58248,"l":55593,"c":56222},
{"t":"2024-09-04T12:00","o":56362,"h":58178,"l":56153,"c":58038},
{"t":"2024-09-05T00:00","o":58318,"h":58527,"l":56502,"c":56642},
{"t":"2024-09-05T12:00","o":56921,"h":57340,"l":56362,"c":56502},
{"t":"2024-09-06T00:00","o":56362,"h":56851,"l":55733,"c":55803},
{"t":"2024-09-06T12:00","o":56083,"h":56991,"l":53917,"c":53987},
{"t":"2024-09-07T00:00","o":53987,"h":54545,"l":53428,"c":54406},
{"t":"2024-09-07T12:00","o":54406,"h":54825,"l":54127,"c":54685},
{"t":"2024-09-08T00:00","o":54545,"h":54755,"l":53847,"c":54266},
{"t":"2024-09-08T12:00","o":54266,"h":54755,"l":53638,"c":54685},
{"t":"2024-09-09T00:00","o":54685,"h":55314,"l":54476,"c":55104},
{"t":"2024-09-09T12:00","o":55104,"h":57200,"l":54964,"c":57060},
{"t":"2024-09-10T00:00","o":57060,"h":58108,"l":56432,"c":56642},
{"t":"2024-09-10T12:00","o":56642,"h":58038,"l":56502,"c":57619},
{"t":"2024-09-11T00:00","o":57898,"h":58038,"l":57200,"c":57340},
{"t":"2024-09-11T12:00","o":56502,"h":57340,"l":55552,"c":57200},
{"t":"2024-09-12T00:00","o":57340,"h":58457,"l":57200,"c":58318},
{"t":"2024-09-12T12:00","o":58318,"h":58597,"l":57340,"c":58038},
{"t":"2024-09-13T00:00","o":58038,"h":58457,"l":57758,"c":58178},
{"t":"2024-09-13T12:00","o":57898,"h":59714,"l":57689,"c":59575},
{"t":"2024-09-14T00:00","o":59854,"h":60622,"l":59714,"c":60552},
{"t":"2024-09-14T12:00","o":59994,"h":60413,"l":59435,"c":59854},
{"t":"2024-09-15T00:00","o":59854,"h":60343,"l":59714,"c":60134},
{"t":"2024-09-15T12:00","o":59994,"h":60413,"l":59854,"c":60274},
{"t":"2024-09-16T00:00","o":59156,"h":59854,"l":58108,"c":58597},
{"t":"2024-09-16T12:00","o":58457,"h":58737,"l":57479,"c":57619},
{"t":"2024-09-17T00:00","o":57619,"h":58806,"l":57479,"c":58737},
{"t":"2024-09-17T12:00","o":58877,"h":61321,"l":58737,"c":61112},
{"t":"2024-09-18T00:00","o":60692,"h":60762,"l":59435,"c":60274},
{"t":"2024-09-18T12:00","o":59994,"h":60552,"l":59156,"c":59435},
{"t":"2024-09-19T00:00","o":59435,"h":61950,"l":59365,"c":61810},
{"t":"2024-09-19T12:00","o":61950,"h":62718,"l":61810,"c":62648},
{"t":"2024-09-20T00:00","o":62648,"h":63836,"l":62509,"c":63626},
{"t":"2024-09-20T12:00","o":63626,"h":64115,"l":62299,"c":62928},
{"t":"2024-09-21T00:00","o":62928,"h":63347,"l":62648,"c":63067},
{"t":"2024-09-21T12:00","o":63067,"h":63417,"l":62928,"c":63207},
{"t":"2024-09-22T00:00","o":63207,"h":63556,"l":62788,"c":63067},
{"t":"2024-09-22T12:00","o":62928,"h":63067,"l":62439,"c":62509},
{"t":"2024-09-23T00:00","o":62788,"h":64744,"l":62648,"c":63626},
{"t":"2024-09-23T12:00","o":63626,"h":63696,"l":63067,"c":63347},
{"t":"2024-09-24T00:00","o":63207,"h":63487,"l":62718,"c":63300},
{"t":"2024-09-24T12:00","o":63347,"h":64325,"l":63067,"c":64185},
{"t":"2024-09-25T00:00","o":64325,"h":64744,"l":63766,"c":64185},
{"t":"2024-09-25T12:00","o":63906,"h":64045,"l":63067,"c":63207},
{"t":"2024-09-26T00:00","o":63207,"h":64464,"l":62718,"c":64325},
{"t":"2024-09-26T12:00","o":64464,"h":65582,"l":64325,"c":65163},
{"t":"2024-09-27T00:00","o":65163,"h":65722,"l":64953,"c":65582},
{"t":"2024-09-27T12:00","o":65722,"h":66448,"l":65582,"c":66001},
{"t":"2024-09-28T00:00","o":66001,"h":66141,"l":65442,"c":65722},
{"t":"2024-09-28T12:00","o":65722,"h":65931,"l":65442,"c":65700},
{"t":"2024-09-29T00:00","o":65790,"h":65931,"l":65442,"c":65722},
{"t":"2024-09-29T12:00","o":65722,"h":65931,"l":65582,"c":65861},
{"t":"2024-09-30T00:00","o":65861,"h":66071,"l":64464,"c":64604},
{"t":"2024-09-30T12:00","o":64464,"h":64534,"l":63067,"c":63626},
{"t":"2024-10-01T00:00","o":63626,"h":64115,"l":62858,"c":63906},
{"t":"2024-10-01T12:00","o":63766,"h":63836,"l":61741,"c":61810},
{"t":"2024-10-02T00:00","o":61810,"h":61880,"l":60204,"c":61112},
{"t":"2024-10-02T12:00","o":61671,"h":62369,"l":60134,"c":61112},
{"t":"2024-10-03T00:00","o":60972,"h":61531,"l":59994,"c":60413},
{"t":"2024-10-03T12:00","o":60972,"h":61112,"l":59924,"c":60552},
{"t":"2024-10-04T00:00","o":60552,"h":61531,"l":60413,"c":61391},
{"t":"2024-10-04T12:00","o":61391,"h":62439,"l":61251,"c":62090},
{"t":"2024-10-05T00:00","o":62090,"h":62439,"l":61810,"c":62229},
{"t":"2024-10-05T12:00","o":62229,"h":62369,"l":61950,"c":62299},
{"t":"2024-10-06T00:00","o":62090,"h":62159,"l":61810,"c":61950},
{"t":"2024-10-06T12:00","o":62020,"h":62788,"l":61950,"c":62509},
{"t":"2024-10-07T00:00","o":62788,"h":63976,"l":62648,"c":63766},
{"t":"2024-10-07T12:00","o":63626,"h":64395,"l":62788,"c":63700},
{"t":"2024-10-08T00:00","o":63067,"h":63207,"l":62090,"c":62369},
{"t":"2024-10-08T12:00","o":62648,"h":63138,"l":61950,"c":62369},
{"t":"2024-10-09T00:00","o":62439,"h":62509,"l":61810,"c":62369},
{"t":"2024-10-09T12:00","o":62229,"h":62299,"l":61391,"c":61531},
{"t":"2024-10-10T00:00","o":60832,"h":61182,"l":60274,"c":60692},
{"t":"2024-10-10T12:00","o":60552,"h":61252,"l":58876,"c":60832},
{"t":"2024-10-11T00:00","o":60134,"h":60692,"l":59575,"c":60552},
{"t":"2024-10-11T12:00","o":60692,"h":62369,"l":60552,"c":62229},
{"t":"2024-10-12T00:00","o":62229,"h":63417,"l":62090,"c":62928},
{"t":"2024-10-12T12:00","o":62928,"h":63347,"l":62578,"c":62788},
{"t":"2024-10-13T00:00","o":62788,"h":63417,"l":62578,"c":63067},
{"t":"2024-10-13T12:00","o":62788,"h":62928,"l":62090,"c":62579},
{"t":"2024-10-14T00:00","o":62648,"h":64255,"l":62439,"c":64185},
{"t":"2024-10-14T12:00","o":64464,"h":66420,"l":64325,"c":66141},
{"t":"2024-10-15T00:00","o":65722,"h":66350,"l":65233,"c":65303},
{"t":"2024-10-15T12:00","o":65303,"h":67957,"l":64814,"c":67259},
{"t":"2024-10-16T00:00","o":66979,"h":67957,"l":66839,"c":67817},
{"t":"2024-10-16T12:00","o":67817,"h":68376,"l":66979,"c":67538},
{"t":"2024-10-17T00:00","o":67817,"h":68027,"l":67049,"c":67119},
{"t":"2024-10-17T12:00","o":67119,"h":67538,"l":66630,"c":67259},
{"t":"2024-10-18T00:00","o":67259,"h":68236,"l":67119,"c":68097},
{"t":"2024-10-18T12:00","o":68097,"h":69005,"l":67957,"c":68795},
{"t":"2024-10-19T00:00","o":68516,"h":68725,"l":68097,"c":68236},
{"t":"2024-10-19T12:00","o":68236,"h":68376,"l":68027,"c":68167},
{"t":"2024-10-20T00:00","o":68236,"h":68376,"l":68097,"c":68306},
{"t":"2024-10-20T12:00","o":68376,"h":68655,"l":68236,"c":68586},
{"t":"2024-10-21T00:00","o":68586,"h":69466,"l":68516,"c":69214},
{"t":"2024-10-21T12:00","o":69144,"h":69214,"l":66839,"c":67957},
{"t":"2024-10-22T00:00","o":67538,"h":67678,"l":66560,"c":67259},
{"t":"2024-10-22T12:00","o":67259,"h":67678,"l":66979,"c":67300},
{"t":"2024-10-23T00:00","o":67678,"h":67748,"l":66560,"c":66979},
{"t":"2024-10-23T12:00","o":66700,"h":66979,"l":65023,"c":66141},
{"t":"2024-10-24T00:00","o":66420,"h":67468,"l":66280,"c":67259},
{"t":"2024-10-24T12:00","o":67259,"h":68236,"l":67119,"c":68097},
{"t":"2024-10-25T00:00","o":67957,"h":68767,"l":67259,"c":67398},
{"t":"2024-10-25T12:00","o":68097,"h":68725,"l":67398,"c":67817},
{"t":"2024-10-26T00:00","o":66665,"h":67328,"l":65504,"c":66997},
{"t":"2024-10-26T12:00","o":66886,"h":67218,"l":66665,"c":66997},
{"t":"2024-10-27T00:00","o":66997,"h":67328,"l":66831,"c":67052},
{"t":"2024-10-27T12:00","o":67108,"h":67771,"l":66997,"c":67660},
{"t":"2024-10-28T00:00","o":67660,"h":68434,"l":67550,"c":68213},
{"t":"2024-10-28T12:00","o":68213,"h":69319,"l":68103,"c":68766},
{"t":"2024-10-29T00:00","o":69872,"h":71421,"l":69762,"c":71310},
{"t":"2024-10-29T12:00","o":70867,"h":72859,"l":70646,"c":72416},
{"t":"2024-10-30T00:00","o":72416,"h":73544,"l":72305,"c":72527},
{"t":"2024-10-30T12:00","o":72527,"h":72859,"l":71642,"c":71974},
{"t":"2024-10-31T00:00","o":72084,"h":72914,"l":71310,"c":72305},
{"t":"2024-10-31T12:00","o":72416,"h":72637,"l":70425,"c":70867},
{"t":"2024-11-01T00:00","o":70425,"h":70536,"l":68766,"c":69540},
{"t":"2024-11-01T12:00","o":69762,"h":71587,"l":68766,"c":69319},
{"t":"2024-11-02T00:00","o":69430,"h":70149,"l":68822,"c":69651},
{"t":"2024-11-02T12:00","o":69595,"h":69817,"l":69375,"c":69540},
{"t":"2024-11-03T00:00","o":69430,"h":69540,"l":67882,"c":68434},
{"t":"2024-11-03T12:00","o":68213,"h":69153,"l":67494,"c":68545},
{"t":"2024-11-04T00:00","o":68545,"h":69430,"l":68323,"c":68766},
{"t":"2024-11-04T12:00","o":68766,"h":69264,"l":68103,"c":68545},
{"t":"2024-11-05T00:00","o":68434,"h":68877,"l":66831,"c":68766},
{"t":"2024-11-05T12:00","o":68766,"h":70536,"l":68766,"c":69319},
{"t":"2024-11-06T00:00","o":69208,"h":74296,"l":69098,"c":74186},
{"t":"2024-11-06T12:00","o":74186,"h":75347,"l":72692,"c":74739},
{"t":"2024-11-07T00:00","o":74739,"h":76508,"l":74517,"c":75955},
{"t":"2024-11-07T12:00","o":75071,"h":76287,"l":74517,"c":76287},
{"t":"2024-11-08T00:00","o":76287,"h":76973,"l":75623,"c":76508},
{"t":"2024-11-08T12:00","o":76269,"h":76273,"l":75914,"c":75914}
]},
"layer":[
{"data":{"name":"candles"},"mark":{"type":"rule","strokeWidth":1.1},"encoding":{
"x":{"field":"t","type":"temporal","title":null,"scale":{"padding":0,"domain":[{"year":2024,"month":2,"date":17,"hours":15,"minutes":36},{"year":2024,"month":12,"date":16,"hours":15,"minutes":36}]},"axis":{"orient":"bottom","offset":-37,"values":[{"year":2024,"month":3,"date":1},{"year":2024,"month":4,"date":1},{"year":2024,"month":5,"date":1},{"year":2024,"month":6,"date":1},{"year":2024,"month":7,"date":1},{"year":2024,"month":8,"date":1},{"year":2024,"month":9,"date":1},{"year":2024,"month":10,"date":1},{"year":2024,"month":11,"date":1}],"format":"%b","grid":false,"domain":false,"ticks":false,"labelPadding":0,"labelFont":"Inter","labelFontSize":24,"labelFontWeight":"bold","labelColor":"#b7b7b5","labelBaseline":"top"}},
"y":{"field":"l","type":"quantitative","title":null,"scale":{"domain":[51561,88102],"nice":false,"zero":false},"axis":{"orient":"right","offset":-125,"values":[54000,56000,58000,60000,62000,64000,66000,68000,70000,72000,74000,76000,78000,80000,82000,84000,86000],"format":",d","grid":false,"domain":false,"ticks":false,"labelPadding":0,"labelAlign":"left","labelOffset":-2,"labelFont":"Inter","labelFontSize":24,"labelColor":"#b7b7b5"}},
"y2":{"field":"h"},
"color":{"condition":{"test":"datum.c >= datum.o","value":"#089981"},"value":"#f23645"}}},
{"data":{"name":"candles"},"mark":{"type":"bar","width":3.1},"encoding":{
"x":{"field":"t","type":"temporal"},"y":{"field":"o","type":"quantitative"},"y2":{"field":"c"},
"color":{"condition":{"test":"datum.c >= datum.o","value":"#089981"},"value":"#f23645"}}},
{"data":{"values":[{"t0":"2024-02-17T15:36","t1":"2024-11-26T23:00","p":73575}]},"mark":{"type":"rule","strokeWidth":1.3,"color":"#2962ff"},"encoding":{"x":{"field":"t0","type":"temporal"},"x2":{"field":"t1"},"y":{"field":"p","type":"quantitative"}}},
{"data":{"values":[{"t0":"2024-02-17T15:36","t1":"2024-11-10T21:00","p":75932}]},"mark":{"type":"rule","strokeWidth":1.3,"color":"#f23645","strokeDash":[2,4]},"encoding":{"x":{"field":"t0","type":"temporal"},"x2":{"field":"t1"},"y":{"field":"p","type":"quantitative"}}},
{"data":{"values":[
{"t0":"2024-11-27T19:00","t1":"2024-12-15T10:00","p0":87804,"p1":85978,"kind":"cream"},
{"t0":"2024-11-27T19:00","t1":"2024-12-15T10:00","p0":87804,"p1":86144,"kind":"white"},
{"t0":"2024-11-10T21:00","t1":"2024-11-26T16:00","p0":76486,"p1":75367,"kind":"red"},
{"t0":"2024-11-26T23:00","t1":"2024-12-15T05:00","p0":76486,"p1":74428,"kind":"red"},
{"t0":"2024-11-26T23:00","t1":"2024-12-12T05:00","p0":74129,"p1":73011,"kind":"blue"}]},
"mark":{"type":"rect","cornerRadius":4},"encoding":{"x":{"field":"t0","type":"temporal"},"x2":{"field":"t1"},"y":{"field":"p0","type":"quantitative"},"y2":{"field":"p1"},
"color":{"field":"kind","type":"nominal","legend":null,"scale":{"domain":["muted","red","white","ink","dim","blue","brand","yellow","orange","cream"],"range":["#b7b7b5","#f23645","#ffffff","#131722","#fbc5ca","#2962ff","#d1d4dc","#ffeb3b","#ff9800","#f1f0ea"]}}}},
{"data":{"values":[
{"t":"2024-02-19T22:30","p":87007,"label":"Bitcoin / U.S. Dollar, 4h, BITSTAMP","kind":"muted"},
{"t":"2024-04-16T05:00","p":87007,"label":"O","kind":"muted"},
{"t":"2024-04-18T17:00","p":87007,"label":"76,269","kind":"red"},
{"t":"2024-05-01T18:00","p":87007,"label":"H","kind":"muted"},
{"t":"2024-05-04T06:00","p":87007,"label":"76,273","kind":"red"},
{"t":"2024-05-16T21:00","p":87007,"label":"L","kind":"muted"},
{"t":"2024-05-18T19:00","p":87007,"label":"75,914","kind":"red"},
{"t":"2024-05-31T00:00","p":87007,"label":"C","kind":"muted"},
{"t":"2024-06-02T09:00","p":87007,"label":"75,914","kind":"red"},
{"t":"2024-06-14T20:00","p":87007,"label":"−360","kind":"red"},
{"t":"2024-06-24T00:00","p":87007,"label":"(−0.47%)","kind":"red"},
{"t":"2024-11-30T10:00","p":87007,"label":"USD","kind":"ink"},
{"t":"2024-11-12T02:00","p":75932,"label":"BTCUSD","kind":"white"},
{"t":"2024-11-29T07:00","p":75932,"label":"75,914","kind":"white"},
{"t":"2024-11-29T07:00","p":75026,"label":"03:47:25","kind":"dim"},
{"t":"2024-11-29T07:00","p":73631,"label":"73,575","kind":"white"}]},
"mark":{"type":"text","align":"left","baseline":"middle","font":"Inter","fontSize":24},"encoding":{"x":{"field":"t","type":"temporal"},"y":{"field":"p","type":"quantitative"},"text":{"field":"label"},"color":{"field":"kind","type":"nominal","legend":null}}},
{"data":{"values":[{"t":"2024-02-24T04:00","p":50333,"label":"TradingView","kind":"brand"}]},"mark":{"type":"text","align":"left","baseline":"middle","font":"Inter","fontSize":25.5},"encoding":{"x":{"field":"t","type":"temporal"},"y":{"field":"p","type":"quantitative"},"text":{"field":"label"},"color":{"field":"kind","type":"nominal","legend":null}}},
{"data":{"values":[{"t":"2024-02-20T12:30","p":50399}]},"mark":{"type":"point","filled":true,"opacity":1,"size":6200,"color":"#d1d4dc","shape":"M-0.5,-0.254L-0.102,-0.254L-0.102,0.237L-0.305,0.237L-0.305,-0.042L-0.5,-0.042ZM-0.042,-0.127A0.11,0.11 0 1 0 0.178,-0.127A0.11,0.11 0 1 0 -0.042,-0.127ZM0.263,-0.237L0.5,-0.237L0.28,0.237L0.051,0.237Z"},"encoding":{"x":{"field":"t","type":"temporal"},"y":{"field":"p","type":"quantitative"}}},
{"data":{"values":[{"t":"2024-11-08T08:38","p":54216}]},"mark":{"type":"point","shape":"circle","filled":true,"fill":"#ffffff","stroke":"#9c27b0","strokeWidth":2.6,"opacity":1,"size":1250},"encoding":{"x":{"field":"t","type":"temporal"},"y":{"field":"p","type":"quantitative"}}},
{"data":{"values":[{"t":"2024-11-08T08:38","p":54216}]},"mark":{"type":"point","filled":true,"opacity":1,"size":1600,"color":"#9c27b0","shape":"M0.38,-0.5L-0.25,0L0.03,0L-0.37,0.5L0.45,-0.08L0.13,-0.08Z"},"encoding":{"x":{"field":"t","type":"temporal"},"y":{"field":"p","type":"quantitative"}}},
{"data":{"values":[{"t":"2024-10-05T01:00","p":60273,"kind":"yellow"},{"t":"2024-10-31T10:00","p":65145,"kind":"orange"}]},"mark":{"type":"point","shape":"circle","filled":true,"opacity":1,"size":10},"encoding":{"x":{"field":"t","type":"temporal"},"y":{"field":"p","type":"quantitative"},"color":{"field":"kind","type":"nominal","legend":null}}}
]}
